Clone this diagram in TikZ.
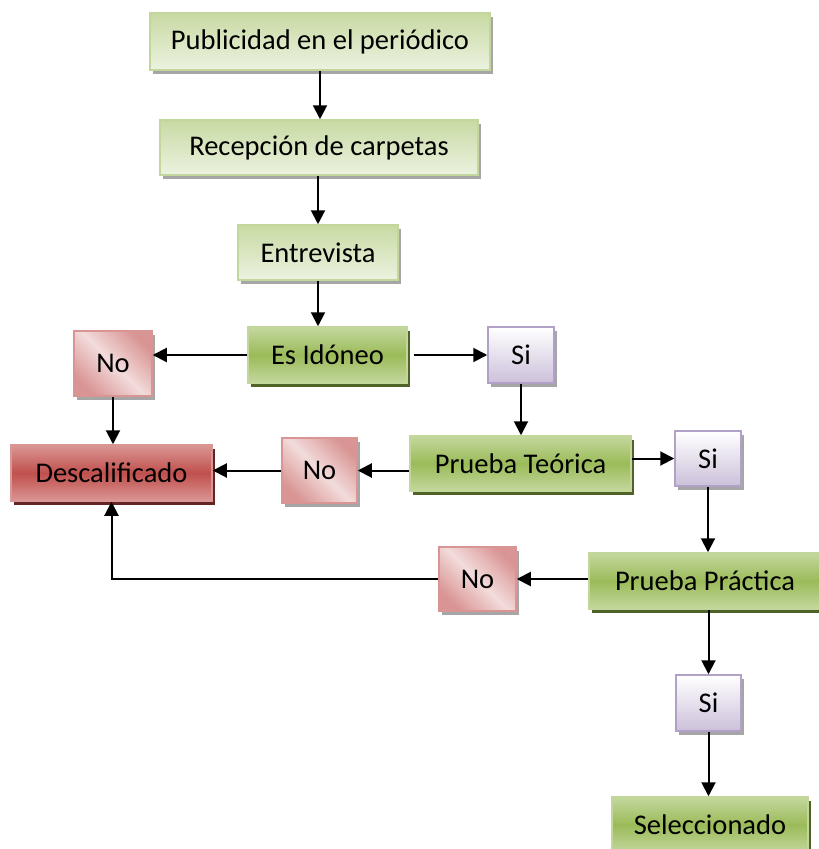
\documentclass[tikz,border=0pt]{standalone}
\usepackage{fontspec}
\setmainfont{Carlito}
\usepackage{tikz}
\usetikzlibrary{arrows.meta, positioning, shadows, calc}
\definecolor{SoftLine}{RGB}{195,214,155}
\definecolor{SoftTop}{RGB}{200,218,163}
\definecolor{SoftBot}{RGB}{236,242,224}
\definecolor{StepEdge}{RGB}{196,215,158}
\definecolor{StepMid}{RGB}{155,187,89}
\definecolor{StepShadow}{RGB}{79,98,40}
\definecolor{FailEdge}{RGB}{218,150,148}
\definecolor{FailMid}{RGB}{192,80,77}
\definecolor{FailShadow}{RGB}{99,37,35}
\definecolor{NoDark}{RGB}{217,149,148}
\definecolor{NoLight}{RGB}{242,220,219}
\definecolor{SiLine}{RGB}{178,161,199}
\definecolor{SiBot}{RGB}{204,192,218}

\tikzset{
  base/.style={rectangle, inner sep=0pt, line width=1.5pt,
               font=\fontsize{28.5}{34}\selectfont},
  softbox/.style={base, draw=SoftLine, top color=SoftTop, bottom color=SoftBot,
                  drop shadow={shadow xshift=3pt, shadow yshift=-4pt,
                               fill=black!35, opacity=1}},
  stepbox/.style={base, draw=SoftLine, top color=StepEdge, bottom color=StepEdge,
                  middle color=StepMid,
                  drop shadow={shadow xshift=3pt, shadow yshift=-4pt,
                               fill=StepShadow, opacity=1}},
  failbox/.style={base, draw=FailEdge, top color=FailEdge, bottom color=FailEdge,
                  middle color=FailMid,
                  drop shadow={shadow xshift=3pt, shadow yshift=-4pt,
                               fill=FailShadow, opacity=1}},
  nobox/.style={base, draw=NoDark, left color=NoDark, right color=NoDark,
                middle color=NoLight, shading angle=135,
                drop shadow={shadow xshift=3pt, shadow yshift=-4pt,
                             fill=black!35, opacity=1}},
  sibox/.style={base, draw=SiLine, top color=white, bottom color=SiBot,
                drop shadow={shadow xshift=3pt, shadow yshift=-4pt,
                             fill=black!35, opacity=1}},
  link/.style={line width=2pt, -{Triangle[width=14pt,length=14pt]}}
}

\begin{document}
\begin{tikzpicture}[x=1pt, y=-1pt]
  \useasboundingbox (0,0) rectangle (819,849);

  % main line of the process
  \node[softbox, minimum width=340pt, minimum height=57pt] (pub) at (320,41.5)
    {Publicidad en el periódico};
  \node[softbox, minimum width=318pt, minimum height=55pt] (rec) at (319,147.5)
    {Recepción de carpetas};
  \node[softbox, minimum width=160pt, minimum height=55pt] (ent) at (318,252.5)
    {Entrevista};
  \node[stepbox, minimum width=159pt, minimum height=56pt] (ido) at (327.5,355)
    {Es Idóneo};

  % answers and tests
  \node[nobox, minimum width=78pt, minimum height=65pt] (no1) at (113,363.5) {No};
  \node[sibox, minimum width=66pt, minimum height=56pt] (si1) at (521,355) {Si};
  \node[failbox, minimum width=201pt, minimum height=56pt] (des) at (111.5,473)
    {Descalificado};
  \node[nobox, minimum width=75pt, minimum height=65pt] (no2) at (319.5,470.5) {No};
  \node[stepbox, minimum width=221pt, minimum height=55pt] (teo) at (520.5,463.5)
    {Prueba Teórica};
  \node[sibox, minimum width=66pt, minimum height=55pt] (si2) at (708,458.5) {Si};
  \node[nobox, minimum width=77pt, minimum height=64pt] (no3) at (477.5,579) {No};
  \node[stepbox, minimum width=232pt, minimum height=56pt] (pra) at (705,581)
    {Prueba Práctica};
  \node[sibox, minimum width=65pt, minimum height=56pt] (si3) at (708.5,703) {Si};
  \node[stepbox, minimum width=196pt, minimum height=56pt] (sel) at (710,825)
    {Seleccionado};

  % connectors
  \draw[link] (pub.south) -- (pub.south |- rec.north);
  \draw[link] (ent.north |- rec.south) -- (ent.north);
  \draw[link] (ent.south) -- (ent.south |- ido.north);
  \draw[link] (ido.west) -- (ido.west -| no1.east);
  \draw[link] ($(ido.east)+(6,0)$) -- (si1.west);
  \draw[link] (no1.south) -- (no1.south |- des.north);
  \draw[link] (si1.south) -- (si1.south |- teo.north);
  \draw[link] (teo.west |- no2.east) -- (no2.east);
  \draw[link] (no2.west) -- (no2.west -| des.east);
  \draw[link] (teo.east |- si2.west) -- (si2.west);
  \draw[link] (si2.south) -- (si2.south |- pra.north);
  \draw[link] (pra.west |- no3.east) -- (no3.east);
  \draw[link] (no3.west) -| (des.south);
  \draw[link] (si3.north |- pra.south) -- (si3.north);
  \draw[link] (si3.south) -- (si3.south |- sel.north);
\end{tikzpicture}
\end{document}
